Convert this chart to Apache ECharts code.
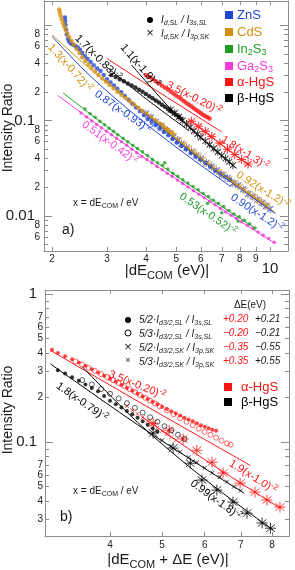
<!DOCTYPE html>
<html><head><meta charset="utf-8">
<script src="https://cdn.jsdelivr.net/npm/echarts@6/dist/echarts.min.js"></script>
<style>html,body{margin:0;padding:0;background:#fff}#c{width:295px;height:570px}</style>
</head><body><div id="c"></div>
<script>
// ---------------- DATA (panel a) ----------------
const aXRange = [1.886, 11.41];
const aYRange = [0.0043, 1.784];
const aXTicks = [2,3,4,5,6,7,8,9,10];
const aXLabelVals = [2,3,4,5,6,7,8,9,10];
const aXLabelTxt = ['2','3','4','5','6','7','8','9','10'];
const aYMinorTicks = [0.005,0.006,0.007,0.008,0.009,0.02,0.03,0.04,0.05,0.06,0.07,0.08,0.09,0.2,0.3,0.4,0.5,0.6,0.7,0.8,0.9];
const aYMajorTicks = [0.01,0.1,1];
const aYLabelVals = [1,0.8,0.6,0.4,0.2,0.1,0.08,0.06,0.04,0.02,0.01,0.008,0.006];
const aYLabelTxt = ['1','8','6','4','2','0.1','8','6','4','2','0.01','8','6'];

const znsDot = [[2.20,1.20],[2.205,1.10],[2.21,1.00],[2.22,0.90],[2.23,0.80],[2.25,0.72],[2.27,0.67],[2.30,0.64],[2.34,0.62],[2.38,0.60],[2.42,0.58],[2.46,0.55],[2.50,0.51],[2.55,0.47],[2.60,0.44],[2.66,0.41],[2.72,0.38],[2.79,0.35],[2.86,0.33],[2.93,0.30],[3.0,0.27],[3.08,0.25],[3.16,0.232],[3.24,0.215],[3.33,0.198],[3.42,0.182],[3.52,0.165],[3.62,0.150],[3.72,0.137],[3.83,0.125],[3.94,0.114],[4.05,0.104],[4.17,0.097],[4.3,0.089],[4.43,0.082],[4.57,0.076],[4.72,0.070],[4.87,0.064],[5.03,0.059],[5.2,0.054],[5.38,0.050],[5.57,0.046],[5.77,0.042],[5.98,0.039],[6.2,0.036],[6.43,0.033],[6.67,0.030],[6.92,0.0278],[7.18,0.0258],[7.44,0.024]];
const znsCross = [[4.0,0.118],[4.15,0.108],[4.3,0.097],[4.45,0.088],[4.6,0.081],[4.75,0.074],[4.9,0.067],[5.05,0.062],[5.2,0.057],[5.4,0.052],[5.6,0.047],[5.8,0.043],[6.0,0.040],[6.25,0.036],[6.5,0.033],[6.75,0.030],[7.0,0.027],[7.3,0.025],[7.6,0.022],[7.9,0.021],[8.2,0.019],[8.5,0.017],[8.8,0.016],[9.1,0.0148],[9.4,0.0137],[9.7,0.0127],[10.0,0.0118]];
const cdsDot = [[2.11,1.45],[2.12,1.35],[2.13,1.25],[2.15,1.15],[2.17,1.05],[2.19,0.97],[2.21,0.90],[2.24,0.82],[2.27,0.75],[2.31,0.68],[2.35,0.62],[2.40,0.56],[2.45,0.51],[2.50,0.46],[2.56,0.42],[2.62,0.385],[2.68,0.355],[2.75,0.325],[2.82,0.30],[2.9,0.275],[2.98,0.255],[3.06,0.235],[3.15,0.217],[3.24,0.20],[3.34,0.185],[3.44,0.172],[3.55,0.159],[3.66,0.147],[3.78,0.136],[3.9,0.126],[4.02,0.117],[4.15,0.108],[4.28,0.100],[4.42,0.093],[4.56,0.086],[4.7,0.080],[4.85,0.075]];
const cdsCross = [[4.5,0.088],[4.7,0.078],[4.9,0.069],[5.1,0.062],[5.3,0.056],[5.5,0.051],[5.7,0.047],[5.9,0.043],[6.1,0.039],[6.35,0.035],[6.6,0.032],[6.85,0.029],[7.1,0.027],[7.4,0.0245],[7.7,0.0222],[8.0,0.0203],[8.3,0.0186],[8.6,0.0171],[8.9,0.0158],[9.2,0.0146],[9.5,0.0136],[9.8,0.0127]];
const in2s3Dot = [[2.55,0.132],[2.65,0.118],[2.75,0.108],[2.85,0.098],[2.95,0.090],[3.05,0.083],[3.15,0.077],[3.25,0.071],[3.38,0.065],[3.5,0.060],[3.63,0.055],[3.76,0.051],[3.9,0.047],[4.05,0.043],[4.2,0.039],[4.36,0.036],[4.52,0.034],[4.6,0.036],[4.7,0.031],[4.88,0.028],[5.06,0.026],[5.25,0.024],[5.45,0.0222],[5.66,0.0204],[5.88,0.0188],[6.1,0.0172],[6.3,0.0135],[6.34,0.0160],[6.58,0.0146],[6.83,0.0136],[7.0,0.0108],[7.1,0.0126],[7.38,0.0114],[7.66,0.0105],[7.9,0.0088],[7.96,0.0098],[8.27,0.0090],[8.6,0.0083],[8.95,0.0075]];
const ga2s3Dot = [[2.48,0.12],[2.58,0.109],[2.68,0.099],[2.78,0.091],[2.88,0.084],[2.99,0.077],[3.1,0.071],[3.22,0.065],[3.34,0.060],[3.47,0.055],[3.6,0.050],[3.74,0.046],[3.88,0.042],[4.03,0.039],[4.18,0.036],[4.34,0.033],[4.51,0.0305],[4.68,0.0281],[4.86,0.0259],[5.05,0.0238],[5.25,0.0219],[5.46,0.0201],[5.68,0.0184],[5.91,0.0169],[6.15,0.0155],[6.4,0.0143],[6.66,0.0131],[6.93,0.0120],[7.21,0.0110],[7.5,0.0102],[7.8,0.0094],[8.1,0.0087],[8.45,0.0080],[8.8,0.0074],[9.15,0.0068],[9.5,0.0063],[9.9,0.0058],[10.3,0.0053]];
const aHgsDotA = [[4.0,0.30],[4.1,0.285],[4.2,0.272],[4.3,0.258],[4.4,0.245],[4.5,0.233],[4.6,0.222],[4.7,0.211],[4.8,0.201],[4.9,0.192],[5.0,0.183],[5.1,0.175],[5.2,0.167],[5.3,0.159],[5.4,0.152],[5.5,0.146],[5.6,0.140],[5.7,0.134],[5.8,0.129],[5.9,0.124],[6.0,0.119],[6.1,0.115],[6.2,0.111],[6.3,0.108],[6.4,0.105]];
const aHgsCrossA = [[5.6,0.098],[5.9,0.087],[6.2,0.077],[6.5,0.068],[6.9,0.058],[7.3,0.050],[7.7,0.044],[8.1,0.039],[8.5,0.035]];
const bHgsDotA = [[3.1,0.30],[3.2,0.285],[3.3,0.27],[3.4,0.257],[3.5,0.244],[3.6,0.232],[3.7,0.221],[3.8,0.21],[3.9,0.2],[4.0,0.19],[4.1,0.18],[4.2,0.171],[4.3,0.162],[4.4,0.154],[4.5,0.146],[4.6,0.139],[4.7,0.132],[4.8,0.126],[4.9,0.120],[5.0,0.114],[5.1,0.109],[5.2,0.104]];
const bHgsCrossA = [[4.8,0.13],[4.95,0.12],[5.1,0.109],[5.25,0.1],[5.4,0.092],[5.55,0.085],[5.7,0.078],[5.85,0.072],[6.0,0.067],[6.2,0.061],[6.4,0.056],[6.6,0.051],[6.8,0.047],[7.0,0.043],[7.2,0.040],[7.4,0.037],[7.6,0.034]];

const fitZnsDot = [[2.0,0.76],[2.5,0.353],[3.0,0.203],[4.0,0.0923],[5.5,0.0417],[7.5,0.0202]];
const fitZnsCross = [[4.0,0.115],[5.5,0.0487],[7.5,0.0227],[10.4,0.0106]];
const fitCdsDot = [[2.0,0.793],[2.5,0.41],[3.0,0.25],[4.0,0.121],[5.0,0.071]];
const fitCdsCross = [[4.5,0.0845],[6.0,0.0399],[8.0,0.0199],[10.4,0.0109]];
const fitIn2s3 = [[2.17,0.195],[3.0,0.0862],[4.5,0.0334],[6.5,0.0148],[8.95,0.00746]];
const fitGa2s3 = [[2.09,0.183],[3.0,0.0766],[4.5,0.0306],[7.0,0.0118],[10.4,0.00512]];
const fitAHgsDotA = [[3.0,0.446],[4.0,0.242],[5.5,0.125],[7.0,0.0757]];
const fitAHgsCrossA = [[5.5,0.102],[7.0,0.0554],[8.6,0.0338]];
const fitBHgsDotA = [[3.0,0.361],[4.0,0.169],[5.5,0.078]];
const fitBHgsCrossA = [[3.6,0.381],[5.0,0.1145],[6.5,0.052],[7.8,0.0316]];

// ---------------- DATA (panel b) ----------------
const bXRange = [3.028, 8.606];
const bYRange = [0.0232, 1.064];
const bXTicks = [4,5,6,7,8];
const bXLabelVals = [4,5,6,7,8];
const bXLabelTxt = ['4','5','6','7','8'];
const bYMinorTicks = [0.03,0.04,0.05,0.06,0.07,0.08,0.09,0.2,0.3,0.4,0.5,0.6,0.7,0.8,0.9];
const bYMajorTicks = [0.1,1];
const bYLabelVals = [1,0.7,0.6,0.5,0.4,0.3,0.2,0.1,0.07,0.06,0.05,0.04,0.03];
const bYLabelTxt = ['1','7','6','5','4','3','2','0.1','7','6','5','4','3'];

const aDotB = [[3.12,0.42],[3.2,0.40],[3.3,0.38],[3.4,0.362],[3.5,0.345],[3.6,0.327],[3.7,0.31],[3.8,0.295],[3.9,0.28],[4.0,0.267],[4.1,0.255],[4.2,0.243],[4.3,0.232],[4.4,0.222],[4.5,0.212],[4.6,0.203],[4.7,0.195],[4.8,0.187],[4.9,0.18],[5.0,0.173],[5.1,0.167],[5.2,0.161],[5.3,0.156],[5.4,0.151],[5.5,0.146],[5.6,0.142],[5.7,0.138],[5.8,0.134],[5.9,0.13],[6.0,0.127],[6.1,0.124],[6.2,0.121],[6.3,0.119]];
const aCircB = [[3.45,0.35],[3.55,0.333],[3.65,0.317],[3.75,0.302],[3.85,0.288],[3.95,0.275],[4.05,0.262],[4.15,0.25],[4.25,0.239],[4.35,0.228],[4.45,0.218],[4.55,0.208],[4.65,0.199],[4.75,0.19],[4.85,0.182],[4.95,0.174],[5.1,0.164],[5.25,0.154],[5.4,0.145],[5.55,0.137],[5.7,0.13],[5.85,0.123],[6.0,0.117],[6.15,0.112],[6.3,0.107],[6.45,0.102],[6.6,0.098],[6.7,0.096]];
const aBigXB = [[4.81,0.134],[5.15,0.12],[5.47,0.105],[5.8,0.088],[6.19,0.0732],[6.49,0.0618],[6.98,0.0528],[7.44,0.0459],[7.83,0.0406],[8.28,0.0364]];
const aSmallXB = [[4.3,0.175],[4.4,0.164],[4.5,0.155],[4.6,0.147],[4.7,0.139],[4.8,0.132],[4.9,0.125],[5.0,0.119],[5.1,0.113],[5.2,0.108],[5.3,0.103]];
const bDotB = [[3.2,0.305],[3.3,0.29],[3.4,0.274],[3.5,0.259],[3.6,0.245],[3.7,0.232],[3.8,0.22],[3.9,0.205],[4.0,0.19],[4.1,0.18],[4.2,0.171],[4.3,0.162],[4.4,0.154],[4.5,0.146],[4.6,0.138],[4.7,0.131],[4.8,0.124],[4.9,0.118]];
const bCircB = [[3.55,0.262],[3.7,0.245],[3.85,0.228],[4.0,0.212],[4.15,0.197],[4.3,0.183],[4.45,0.17],[4.6,0.158],[4.75,0.147],[4.9,0.137],[5.05,0.128],[5.2,0.12],[5.35,0.112],[5.5,0.105]];
const bBigXB = [[4.81,0.115],[5.24,0.091],[5.64,0.072],[5.93,0.0554],[6.32,0.0474],[6.77,0.0393],[7.19,0.0331],[7.67,0.0284],[7.95,0.0262]];
const bSmallXB = [[5.0,0.103],[5.2,0.094],[5.4,0.086],[5.6,0.079],[5.8,0.073],[6.0,0.067],[6.2,0.062],[6.4,0.058],[6.6,0.054],[6.8,0.050],[7.0,0.047]];

const fitADotB = [[3.1,0.416],[4.5,0.189],[6.0,0.104],[7.3,0.0694]];
const fitACrossB = [[4.6,0.147],[6.0,0.076],[7.5,0.045],[8.3,0.0357]];
const fitBDotB = [[3.1,0.337],[4.5,0.131],[6.0,0.0663],[7.1,0.0452]];
const fitBCrossB = [[3.55,0.323],[4.5,0.136],[6.0,0.0561],[8.04,0.0254]];

// ---------------- STYLE ----------------
const FONT = '"Liberation Sans", Arial, sans-serif';
const GRAY = '#8c8c8c';
const TXT = '#1a1a1a';
const COL = {zns:'#2046d6', cds:'#d4900c', in2s3:'#1f9e27', ga2s3:'#f23bd8', ahgs:'#ff1414', bhgs:'#000000'};
const SYM_X = 'path://M0,0L10,10M10,0L0,10';
const SYM_XE = 'path://M0,1L10,11M10,1L0,11M5,-1L5,13';
const SYM_STAR = 'path://M1,1L9,9M9,1L1,9M5,-1L5,11M0,5L10,5';

const L = v => Math.log10(v);
const P = arr => arr.map(p => [L(p[0]), L(p[1])]);
const isMajor = v => Math.abs(L(v) - Math.round(L(v))) < 1e-9;

function fmt(vals, txts, bigStyle, smStyle) {
  return function (v) {
    for (let i = 0; i < vals.length; i++) {
      if (Math.abs(L(vals[i]) - v) < 1e-6) return '{' + (isMajor(vals[i]) ? bigStyle : smStyle) + '|' + txts[i] + '}';
    }
    return '';
  };
}

function xAx(gi, rng, ticks, pos, lab) {
  return {
    gridIndex: gi, type: 'value', position: pos, min: L(rng[0]), max: L(rng[1]),
    axisLine: {show: true, onZero: false, lineStyle: {color: GRAY, width: 1}},
    axisTick: {show: true, inside: true, length: 4, customValues: ticks.map(L), lineStyle: {color: GRAY}},
    axisLabel: lab ? lab : {show: false},
    splitLine: {show: false}, minorTick: {show: false}
  };
}
function yAx(gi, rng, ticks, pos, len, showLine, lab) {
  return {
    gridIndex: gi, type: 'value', position: pos, min: L(rng[0]), max: L(rng[1]),
    axisLine: {show: showLine, onZero: false, lineStyle: {color: GRAY, width: 1}},
    axisTick: {show: true, inside: true, length: len, customValues: ticks.map(L), lineStyle: {color: GRAY}},
    axisLabel: lab ? lab : {show: false},
    splitLine: {show: false}
  };
}

const xAxes = [
  xAx(0, aXRange, aXTicks, 'bottom', {show: true, customValues: aXLabelVals.map(L), formatter: fmt(aXLabelVals, aXLabelTxt, 'ten', 'sm'), margin: 3, color: TXT,
    rich: {sm: {fontSize: 10, fontFamily: FONT, color: TXT}, ten: {fontSize: 15, fontFamily: FONT, color: TXT, padding: [7, 0, 0, 0]}}}),
  xAx(0, aXRange, aXTicks, 'top', null),
  xAx(1, bXRange, bXTicks, 'bottom', {show: true, customValues: bXLabelVals.map(L), formatter: fmt(bXLabelVals, bXLabelTxt, 'sm', 'sm'), margin: 4, color: TXT,
    rich: {sm: {fontSize: 10, fontFamily: FONT, color: TXT}}}),
  xAx(1, bXRange, bXTicks, 'top', null)
];
const yRichA = {big: {fontSize: 15, fontFamily: FONT, color: TXT, padding: [0, 5, 0, 0]}, sm: {fontSize: 10, fontFamily: FONT, color: TXT}};
const yAxes = [
  yAx(0, aYRange, aYMinorTicks, 'left', 4, true, {show: true, customValues: aYLabelVals.map(L), formatter: fmt(aYLabelVals, aYLabelTxt, 'big', 'sm'), margin: 4, color: TXT, rich: yRichA}),
  yAx(0, aYRange, aYMajorTicks, 'left', 8, false, null),
  yAx(0, aYRange, aYMinorTicks, 'right', 4, true, null),
  yAx(0, aYRange, aYMajorTicks, 'right', 8, false, null),
  yAx(1, bYRange, bYMinorTicks, 'left', 4, true, {show: true, customValues: bYLabelVals.map(L), formatter: fmt(bYLabelVals, bYLabelTxt, 'big', 'sm'), margin: 2, color: TXT,
    rich: {big: {fontSize: 15, fontFamily: FONT, color: TXT, padding: [0, 6, 0, 0]}, sm: {fontSize: 10, fontFamily: FONT, color: TXT}}}),
  yAx(1, bYRange, bYMajorTicks, 'left', 8, false, null),
  yAx(1, bYRange, bYMinorTicks, 'right', 4, true, null),
  yAx(1, bYRange, bYMajorTicks, 'right', 8, false, null)
];

function sc(panel, data, sym, size, color, stroke, bw, z) {
  return {
    type: 'scatter', xAxisIndex: panel === 0 ? 0 : 2, yAxisIndex: panel === 0 ? 0 : 4,
    data: P(data), symbol: sym, symbolSize: size, silent: true, animation: false, z: z || 2,
    itemStyle: stroke ? {color: 'rgba(0,0,0,0)', borderColor: color, borderWidth: bw || 1} : {color: color}
  };
}
function fit(panel, data, color, w) {
  return {
    type: 'line', xAxisIndex: panel === 0 ? 0 : 2, yAxisIndex: panel === 0 ? 0 : 4,
    data: P(data), showSymbol: false, smooth: 0.3, silent: true, animation: false, z: 5,
    lineStyle: {color: color, width: w || 1}
  };
}

const series = [
  sc(0, ga2s3Dot, 'circle', 3.5, COL.ga2s3),
  sc(0, in2s3Dot, 'circle', 3.5, COL.in2s3),
  sc(0, znsCross, SYM_XE, [6, 8], COL.zns, true, 1),
  sc(0, cdsCross, SYM_XE, [6, 8], COL.cds, true, 1),
  sc(0, znsDot, 'circle', 4.5, COL.zns),
  sc(0, cdsDot, 'circle', 4.5, COL.cds),
  sc(0, bHgsDotA, 'circle', 4.5, COL.bhgs),
  sc(0, bHgsCrossA, SYM_XE, [6, 8], COL.bhgs, true, 1),
  sc(0, aHgsDotA, 'circle', 4.5, COL.ahgs),
  sc(0, aHgsCrossA, SYM_STAR, 9, COL.ahgs, true, 1.1),
  fit(0, fitZnsDot, COL.zns), fit(0, fitZnsCross, COL.zns), fit(0, fitCdsDot, COL.cds), fit(0, fitCdsCross, COL.cds),
  fit(0, fitIn2s3, COL.in2s3), fit(0, fitGa2s3, COL.ga2s3), fit(0, fitAHgsDotA, COL.ahgs), fit(0, fitAHgsCrossA, COL.ahgs),
  fit(0, fitBHgsDotA, COL.bhgs), fit(0, fitBHgsCrossA, COL.bhgs),

  sc(1, aCircB, 'circle', 5, COL.ahgs, true, 0.8),
  sc(1, aDotB, 'circle', 4, COL.ahgs),
  sc(1, aSmallXB, SYM_X, 4, COL.ahgs, true, 0.9),
  sc(1, aBigXB, SYM_STAR, 11, COL.ahgs, true, 1),
  sc(1, bCircB, 'circle', 5, COL.bhgs, true, 0.8),
  sc(1, bDotB, 'circle', 4, COL.bhgs),
  sc(1, bSmallXB, SYM_X, 4, COL.bhgs, true, 0.9),
  sc(1, bBigXB, SYM_STAR, 11, COL.bhgs, true, 1),
  fit(1, fitADotB, COL.ahgs), fit(1, fitACrossB, COL.ahgs), fit(1, fitBDotB, COL.bhgs), fit(1, fitBCrossB, COL.bhgs)
];

// ---------------- TEXT / LEGENDS ----------------
function rich(fs, italic) {
  const st = italic ? 'italic' : 'normal';
  const o = {fontFamily: FONT, fontStyle: st};
  return {
    s: Object.assign({fontSize: Math.round(fs * 0.7), lineHeight: Math.round(fs * 0.75), verticalAlign: 'bottom'}, o),
    p: Object.assign({fontSize: Math.round(fs * 0.7), lineHeight: Math.round(fs * 0.7), verticalAlign: 'top'}, o)
  };
}
function T(x, y, text, o) {
  o = o || {};
  const fs = o.fs || 11;
  return {
    type: 'text', x: x, y: y, rotation: o.rot ? -o.rot * Math.PI / 180 : 0, silent: true, z: 100,
    style: {text: text, fill: o.color || TXT, fontSize: fs, fontFamily: FONT, fontStyle: o.italic ? 'italic' : 'normal',
      lineHeight: Math.round(fs * 1.3), align: o.align || 'center', verticalAlign: 'middle', rich: rich(fs, o.italic)}
  };
}
function R(x, y, s, color) {
  return {type: 'rect', shape: {x: x - s / 2, y: y - s / 2, width: s, height: s}, style: {fill: color}, silent: true, z: 100};
}

const graphics = [
  // axis titles
  T(8, 128, 'Intensity Ratio', {fs: 14, rot: -90}),
  T(8, 410, 'Intensity Ratio', {fs: 14, rot: -90}),
  T(167, 271, '|dE{s|COM} (eV)|', {fs: 15}),
  T(168, 560, '|dE{s|COM} + ΔE (eV)|', {fs: 15}),
  // panel a annotations
  T(98, 58, '1.7(x-0.83){p|-2}', {color: COL.bhgs, rot: 45}),
  T(140, 66, '1.1(x-1.9){p|-2}', {color: COL.bhgs, rot: 49}),
  T(194, 98, '3.5(x-0.20){p|-2}', {color: COL.ahgs, rot: 27}),
  T(245, 153, '1.8(x-1.3){p|-2}', {color: COL.ahgs, rot: 32}),
  T(263, 190, '0.92(x-1.2){p|-2}', {color: COL.cds, rot: 32}),
  T(257, 213, '0.90(x-1.2){p|-2}', {color: COL.zns, rot: 33}),
  T(208, 214, '0.53(x-0.52){p|-2}', {color: COL.in2s3, rot: 34}),
  T(110, 143, '0.51(x-0.42){p|-2}', {color: COL.ga2s3, rot: 36}),
  T(123, 112, '0.87(x-0.93){p|-2}', {color: COL.zns, rot: 35}),
  T(70, 68, '1.3(x-0.72){p|-2}', {color: COL.cds, rot: 48}),
  T(73, 203, 'x = dE{s|COM} / eV', {fs: 10, align: 'left'}),
  T(62, 230, 'a)', {fs: 14, align: 'left'}),
  // panel a legends
  {type: 'circle', shape: {cx: 150, cy: 20, r: 3}, style: {fill: '#000'}, silent: true, z: 100},
  T(150, 33, '×', {fs: 13}),
  T(161, 20, 'I{s|d,SL} / I{s|3s,SL}', {fs: 10, italic: true, align: 'left'}),
  T(161, 34, 'I{s|d,SK} / I{s|3p,SK}', {fs: 10, italic: true, align: 'left'}),
  R(229, 15, 8, COL.zns), T(237, 15, 'ZnS', {fs: 13, color: COL.zns, align: 'left'}),
  R(229, 32, 8, COL.cds), T(237, 32, 'CdS', {fs: 13, color: COL.cds, align: 'left'}),
  R(229, 49, 8, COL.in2s3), T(237, 49, 'In{s|2}S{s|3}', {fs: 13, color: COL.in2s3, align: 'left'}),
  R(229, 66, 8, COL.ga2s3), T(237, 66, 'Ga{s|2}S{s|3}', {fs: 13, color: COL.ga2s3, align: 'left'}),
  R(229, 82, 8, COL.ahgs), T(237, 82, 'α-HgS', {fs: 13, color: COL.ahgs, align: 'left'}),
  R(229, 98, 8, COL.bhgs), T(237, 98, 'β-HgS', {fs: 13, color: COL.bhgs, align: 'left'}),
  // panel b annotations
  T(137, 385, '3.5(x-0.20){p|-2}', {color: COL.ahgs, rot: 22}),
  T(82, 402, '1.8(x-0.79){p|-2}', {color: COL.bhgs, rot: 35}),
  T(253, 477, '1.9(x-1.0){p|-2}', {color: COL.ahgs, rot: 32}),
  T(216, 500, '0.99(x-1.8){p|-2}', {color: COL.bhgs, rot: 36}),
  T(73, 491, 'x = dE{s|COM} / eV', {fs: 10, align: 'left'}),
  T(60, 517, 'b)', {fs: 14, align: 'left'}),
  // panel b legend
  T(250, 305, 'ΔE(eV)', {fs: 10}),
  {type: 'circle', shape: {cx: 128, cy: 320, r: 3}, style: {fill: '#000'}, silent: true, z: 100},
  {type: 'circle', shape: {cx: 128, cy: 333, r: 3}, style: {fill: 'none', stroke: '#000', lineWidth: 1}, silent: true, z: 100},
  T(128, 347, '×', {fs: 13}),
  T(128, 361, '×', {fs: 9}),
  T(139, 320, '5/2·I{s|d3/2,SL} / I{s|3s,SL}', {fs: 10, italic: true, align: 'left'}),
  T(139, 334, '5/3·I{s|d3/2,SL} / I{s|3s,SL}', {fs: 10, italic: true, align: 'left'}),
  T(139, 348, '5/2·I{s|d3/2,SK} / I{s|3p,SK}', {fs: 10, italic: true, align: 'left'}),
  T(139, 362, '5/3·I{s|d3/2,SK} / I{s|3p,SK}', {fs: 10, italic: true, align: 'left'}),
  T(223, 319, '+0.20', {fs: 10, italic: true, align: 'left', color: COL.ahgs}),
  T(223, 333, '−0.20', {fs: 10, italic: true, align: 'left', color: COL.ahgs}),
  T(223, 347, '−0.35', {fs: 10, italic: true, align: 'left', color: COL.ahgs}),
  T(223, 361, '+0.35', {fs: 10, italic: true, align: 'left', color: COL.ahgs}),
  T(255, 319, '+0.21', {fs: 10, italic: true, align: 'left'}),
  T(255, 333, '−0.21', {fs: 10, italic: true, align: 'left'}),
  T(255, 347, '−0.55', {fs: 10, italic: true, align: 'left'}),
  T(255, 361, '+0.55', {fs: 10, italic: true, align: 'left'}),
  R(228, 387, 8, COL.ahgs), T(241, 387, 'α-HgS', {fs: 13, color: COL.ahgs, align: 'left'}),
  R(228, 402, 8, COL.bhgs), T(241, 402, 'β-HgS', {fs: 13, color: COL.bhgs, align: 'left'})
];

const chart = echarts.init(document.getElementById('c'), null, {renderer: 'canvas'});
chart.setOption({
  animation: false,
  backgroundColor: '#fff',
  textStyle: {fontFamily: FONT},
  grid: [
    {left: 44, top: 1, width: 244, height: 250, containLabel: false, outerBoundsMode: 'none'},
    {left: 45, top: 290, width: 244, height: 246, containLabel: false, outerBoundsMode: 'none'}
  ],
  xAxis: xAxes,
  yAxis: yAxes,
  series: series,
  graphic: {elements: graphics}
});
</script></body></html>
